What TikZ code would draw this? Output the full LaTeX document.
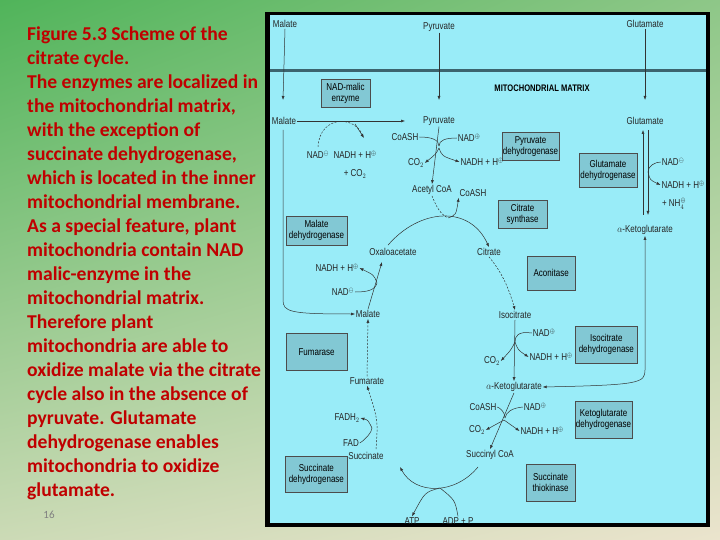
\documentclass[tikz,border=0pt]{standalone}
\usepackage{fontspec}
\setmainfont{Liberation Sans}
\newfontfamily\calib{Carlito}
\usetikzlibrary{arrows.meta,shadings}
\definecolor{cyanbg}{RGB}{153,236,248}
\definecolor{boxfill}{RGB}{130,200,212}
\definecolor{memb}{RGB}{60,100,110}
\definecolor{redtxt}{RGB}{192,0,0}
\definecolor{gtop}{RGB}{80,180,90}
\definecolor{beige}{RGB}{235,228,205}
\begin{document}
\begin{tikzpicture}[x=1pt,y=-1pt,
  lbl/.style={font=\fontsize{10}{10}\selectfont, inner sep=1pt, text=black!85, xscale=0.8},
  enz/.style={draw=black!70, fill=boxfill, font=\fontsize{10}{11}\selectfont, align=center, inner sep=1pt, anchor=north west, xscale=0.8},
  arr/.style={-{Latex[length=4pt,width=3pt]}, black!80, line width=0.5pt},
  ln/.style={black!80, line width=0.5pt},
  dl/.style={arr, dashed, dash pattern=on 2pt off 1.5pt}]
\useasboundingbox (0,0) rectangle (720,540);
\shade[upper left=gtop, upper right=gtop!60!beige, lower left=beige!80!gtop, lower right=beige] (0,0) rectangle (720,540);
\fill[black] (265,12) rectangle (710,527);
\fill[cyanbg] (270,15) rectangle (706,523);
\draw[memb, line width=3pt] (270,71) -- (706,71);
% left text
\node[anchor=north west, align=left, text=redtxt, font=\calib\bfseries\fontsize{19.6}{24}\selectfont, inner sep=0pt] (txt) at (27,27) {Figure 5.3 Scheme of the\\citrate cycle.\\The enzymes are localized in\\the mitochondrial matrix,\\with the exception of\\succinate dehydrogenase,\\which is located in the inner\\mitochondrial membrane.\\As a special feature, plant\\mitochondria contain NAD\\malic-enzyme in the\\mitochondrial matrix.\\Therefore plant\\mitochondria are able to\\oxidize malate via the citrate\\cycle also in the absence of\\pyruvate. Glutamate\\dehydrogenase enables\\mitochondria to oxidize\\glutamate.};
\node[text=gray, font=\calib\fontsize{11}{12}\selectfont] (pg) at (49,515) {16};
% enzymes
\node[enz, minimum width=61pt, minimum height=28pt] (e1) at (321,79) {NAD-malic\\enzyme};
\node[enz, minimum width=65pt, minimum height=28pt] (e2) at (502,132) {Pyruvate\\dehydrogenase};
\node[enz, minimum width=72pt, minimum height=34pt] (e3) at (579,153) {Glutamate\\dehydrogenase};
\node[enz, minimum width=61pt, minimum height=28pt] (e4) at (498,200) {Citrate\\synthase};
\node[enz, minimum width=76pt, minimum height=29pt] (e5) at (286,216) {Malate\\dehydrogenase};
\node[enz, minimum width=60pt, minimum height=34pt] (e6) at (527,256) {Aconitase};
\node[enz, minimum width=78pt, minimum height=37pt] (e7) at (575,326) {Isocitrate\\dehydrogenase};
\node[enz, minimum width=76pt, minimum height=37pt] (e8) at (286,333) {Fumarase};
\node[enz, minimum width=68pt, minimum height=37pt] (e9) at (575,401) {Ketoglutarate\\dehydrogenase};
\node[enz, minimum width=78pt, minimum height=36pt] (e10) at (285,456) {Succinate\\dehydrogenase};
\node[enz, minimum width=61pt, minimum height=37pt] (e11) at (526,464) {Succinate\\thiokinase};
\node[font=\bfseries\fontsize{9.5}{10}\selectfont, xscale=0.8] (mm) at (542,88) {MITOCHONDRIAL MATRIX};
% metabolites
\node[lbl] (malO) at (285,24) {Malate};
\node[lbl] (pyrO) at (439,27) {Pyruvate};
\node[lbl] (gluO) at (645,24) {Glutamate};
\node[lbl] (mal) at (284,121) {Malate};
\node[lbl] (pyr) at (439,121) {Pyruvate};
\node[lbl] (glu) at (645,121) {Glutamate};
\node[lbl] (acoa) at (432,190) {Acetyl CoA};
\node[lbl] (oaa) at (393,252) {Oxaloacetate};
\node[lbl] (cit) at (489,252) {Citrate};
\node[lbl] (akg1) at (645,230) {$\alpha$-Ketoglutarate};
\node[lbl] (mal2) at (368,314) {Malate};
\node[lbl] (iso) at (515,315) {Isocitrate};
\node[lbl] (fum) at (367,381) {Fumarate};
\node[lbl] (akg) at (514,387) {$\alpha$-Ketoglutarate};
\node[lbl] (suc) at (366,456) {Succinate};
\node[lbl] (scoa) at (490,455) {Succinyl CoA};
% cofactors
\node[lbl] (c1) at (318,155) {NAD$^{\ominus}$};
\node[lbl] (c2) at (355,155) {NADH + H$^{\oplus}$};
\node[lbl] (c3) at (355,174) {+ CO$_2$};
\node[lbl] (c4) at (405,137) {CoASH};
\node[lbl] (c5) at (469,138) {NAD$^{\oplus}$};
\node[lbl] (c6) at (416,163) {CO$_2$};
\node[lbl] (c7) at (482,162) {NADH + H$^{\oplus}$};
\node[lbl] (c8) at (473,193) {CoASH};
\node[lbl] (c9) at (673,162) {NAD$^{\ominus}$};
\node[lbl] (c10) at (683,185) {NADH + H$^{\oplus}$};
\node[lbl] (c11) at (674,204) {+ NH$_4^{\oplus}$};
\node[lbl] (c12) at (337,268) {NADH + H$^{\oplus}$};
\node[lbl] (c13) at (343,292) {NAD$^{\ominus}$};
\node[lbl] (c14) at (544,333) {NAD$^{\oplus}$};
\node[lbl] (c15) at (492,361) {CO$_2$};
\node[lbl] (c16) at (551,357) {NADH + H$^{\oplus}$};
\node[lbl] (c17) at (483,407) {CoASH};
\node[lbl] (c18) at (535,407) {NAD$^{\oplus}$};
\node[lbl] (c19) at (477,430) {CO$_2$};
\node[lbl] (c20) at (542,431) {NADH + H$^{\oplus}$};
\node[lbl] (c21) at (347,418) {FADH$_2$};
\node[lbl] (c22) at (351,443) {FAD};
\node[lbl] (c23) at (412,521) {ATP};
\node[lbl] (c24) at (458,521) {ADP + P};
% transport arrows
\draw[arr] (malO.south) -- (283,100);
\draw[arr] (pyrO.south) -- (439,100);
\draw[arr] (gluO.south) -- (645,100);
\draw[arr] (mal.east) -- (405,121);
% malic enzyme cofactors
\draw[ln, dashed, dash pattern=on 2pt off 1.5pt] (c1.north) ++(0,-3) .. controls (320,115) and (355,115) .. (363,136);
\draw[arr] (355,124) -- (364,138);
% pyruvate dehydrogenase
\draw[arr] (pyr.south) -- (acoa.north);
\draw[ln] (c4.east) .. controls (432,137) and (439,140) .. (439,146);
\draw[ln] (c5.west) .. controls (446,138) and (439,140) .. (439,146);
\draw[arr] (439,148) .. controls (436,154) .. (c6.east);
\draw[arr] (439,148) .. controls (442,156) .. (c7.west);
% citrate synthase
\draw[ln, dashed, dash pattern=on 2pt off 1.5pt] (acoa.south) .. controls (436,206) and (440,214) .. (448,218);
\draw[arr] (448,218) .. controls (456,215) .. (c8.south west);
\draw[arr] (oaa.north) ++(-5,-2) .. controls (420,208) and (470,205) .. (cit.north);
% aconitase
\draw[dl] (cit.south) .. controls (500,270) and (508,285) .. (iso.north);
% isocitrate dh
\draw[arr] (iso.south) -- (akg.north);
\draw[ln] (c14.west) .. controls (518,331) and (515,336) .. (515,342);
\draw[arr] (515,342) .. controls (511,350) .. (c15.east);
\draw[arr] (515,342) .. controls (518,350) .. (c16.west);
% ketoglutarate dh
\draw[arr] (akg.south) -- (scoa.north);
\draw[ln] (c17.east) .. controls (500,408) and (505,412) .. (505,418);
\draw[ln] (c18.west) .. controls (512,408) and (506,412) .. (505,418);
\draw[arr] (504,420) -- (c19.east);
\draw[arr] (504,420) -- (c20.west);
% thiokinase
\draw[arr] (478,467) .. controls (455,495) and (415,495) .. (400,467);
\draw[arr] (440,488) .. controls (425,492) .. (c23.north);
\draw[ln] (c24.north) .. controls (455,500) .. (440,488);
% succinate dh
\draw[dl] (suc.north) ++(10,-2) .. controls (378,420) .. (fum.south);
\draw[ln] (c22.east) .. controls (365,440) and (372,432) .. (372,428);
\draw[arr] (372,428) .. controls (368,420) .. (c21.east);
% fumarase
\draw[dl] (fum.north) -- (mal2.south);
% malate dh
\draw[arr] (mal2.north) -- (382,262);
\draw[ln] (c13.east) .. controls (368,292) and (375,290) .. (377,283);
\draw[arr] (377,283) .. controls (374,275) .. (c12.east);
% left loop
\draw[arr] (mal.south) ++(-1,4) -- (283,300) .. controls (283,312) and (290,314) .. (mal2.west);
% glutamate dh
\draw[arr] (643,215) -- (643,130);
\draw[arr] (648,130) -- (648,215);
\draw[ln] (c9.west) .. controls (655,162) and (648,166) .. (648,172);
\draw[arr] (648,172) .. controls (650,180) .. (c10.west);
\draw[{Latex[length=4pt,width=3pt]}-{Latex[length=4pt,width=3pt]}, black!80, line width=0.5pt] (akg1.south) -- (645,370) .. controls (645,383) and (640,385) .. (akg.east);
\end{tikzpicture}
\end{document}
